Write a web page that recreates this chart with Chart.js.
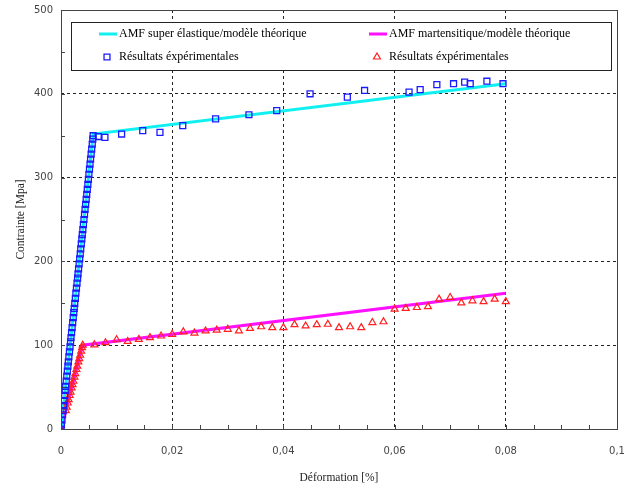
<!DOCTYPE html>
<html lang="fr">
<head>
    <meta charset="UTF-8">
    <title>Contrainte - Déformation</title>
    <script src="https://cdn.jsdelivr.net/npm/chart.js"></script>
    <style>
        body { margin: 0; background: #fff; }
        #wrap { width: 635px; height: 488px; position: relative; }
    </style>
</head>
<body>
    <div id="wrap">
        <canvas id="stressChart"></canvas>
    </div>

    <script>
        // modèle théorique (droites)
        const superLineX = [0, 0.0058, 0.08];
        const superLineY = [0, 352, 412];
        const martLineX = [0, 0.0039, 0.08];
        const martLineY = [0, 100, 162];

        // résultats expérimentaux - AMF super élastique (carrés bleus)
        const superExpX = [0, 0.00008, 0.00018, 0.00028, 0.00036, 0.00046, 0.00056, 0.00066, 0.00076, 0.00084,
            0.00094, 0.00104, 0.00114, 0.00124, 0.00132, 0.00142, 0.00152, 0.00162, 0.00172, 0.0018,
            0.0019, 0.002, 0.0021, 0.0022, 0.0023, 0.00238, 0.00248, 0.00258, 0.00268, 0.00278,
            0.00288, 0.00298, 0.00306, 0.00316, 0.00326, 0.00336, 0.00346, 0.00355, 0.00365, 0.00375,
            0.00383, 0.00393, 0.00403, 0.00413, 0.00423, 0.00433, 0.00443, 0.00453, 0.00463, 0.00473,
            0.00483, 0.00493, 0.00502, 0.00512, 0.00522, 0.00532, 0.00542, 0.00552, 0.00562, 0.00572,
            0.00578, 0.0067, 0.0079, 0.0109, 0.0147, 0.0178, 0.0219, 0.0278, 0.0338, 0.0388,
            0.0448, 0.0515, 0.0546, 0.0626, 0.0646, 0.0676, 0.0706, 0.0726, 0.0736, 0.0766, 0.0795];
        const superExpY = [0, 5, 11, 17, 22, 28, 34, 40, 46, 51,
            57, 63, 69, 75, 80, 86, 92, 98, 104, 109,
            115, 121, 127, 133, 139, 144, 150, 156, 162, 168,
            174, 180, 185, 191, 197, 203, 209, 215, 221, 227,
            232, 238, 244, 250, 256, 262, 268, 274, 280, 286,
            292, 298, 304, 310, 316, 322, 328, 334, 340, 346,
            350, 349, 348, 352, 356, 354, 362, 370, 375, 380,
            400, 396, 404, 402, 405, 411, 412, 414, 412, 415, 412];

        // résultats expérimentaux - AMF martensitique (triangles rouges)
        const martExpX = [0, 0.00086, 0.00102, 0.00121, 0.00137, 0.00156, 0.00172, 0.00191, 0.00207, 0.00223,
            0.00242, 0.00258, 0.00277, 0.00293, 0.00313, 0.00328, 0.00344, 0.00363, 0.00379, 0.00391,
            0.006, 0.008, 0.010, 0.012, 0.014, 0.016, 0.018, 0.020, 0.022, 0.024,
            0.026, 0.028, 0.030, 0.032, 0.034, 0.036, 0.038, 0.040, 0.042, 0.044,
            0.046, 0.048, 0.050, 0.052, 0.054, 0.056, 0.058, 0.060, 0.062, 0.064,
            0.066, 0.068, 0.070, 0.072, 0.074, 0.076, 0.078, 0.080];
        const martExpY = [0, 22, 26, 31, 35, 40, 44, 49, 53, 57,
            62, 66, 71, 75, 80, 84, 88, 93, 97, 100,
            100.5, 103, 106.5, 104.5, 107, 109, 111, 113, 116, 114.5,
            117, 118, 119, 117, 120, 122, 121, 121, 124.5, 123,
            124.5, 125, 121, 122, 121, 127, 128, 143, 144, 145,
            146, 155, 157, 150.5, 153, 152, 155, 152];

        const xTicks = [0, 0.02, 0.04, 0.06, 0.08, 0.1];
        const yTicks = [0, 100, 200, 300, 400, 500];

        const toPoints = (xs, ys) => xs.map((x, i) => ({ x: x, y: ys[i] }));

        // cadre, petites graduations et légende dans le graphique
        const framePlugin = {
            id: "frame",
            afterDraw(chart) {
                const { ctx, chartArea: a, scales } = chart;
                ctx.save();
                ctx.strokeStyle = "#444";
                ctx.lineWidth = 1;
                ctx.strokeRect(a.left + 0.5, a.top + 0.5, a.right - a.left, a.bottom - a.top);

                // graduations intérieures
                ctx.beginPath();
                for (let v = 0; v <= 0.1 + 1e-9; v += 0.005) {
                    const px = Math.round(scales.x.getPixelForValue(v)) + 0.5;
                    ctx.moveTo(px, a.bottom);
                    ctx.lineTo(px, a.bottom - 4);
                }
                for (let v = 0; v <= 500; v += 50) {
                    const py = Math.round(scales.y.getPixelForValue(v)) + 0.5;
                    ctx.moveTo(a.left, py);
                    ctx.lineTo(a.left + 4, py);
                }
                ctx.stroke();

                // légende
                const lx = a.left + 10, ly = a.top + 12, lw = a.right - a.left - 16, lh = 48;
                ctx.fillStyle = "#fff";
                ctx.fillRect(lx, ly, lw, lh);
                ctx.strokeStyle = "#222";
                ctx.strokeRect(lx + 0.5, ly + 0.5, lw, lh);

                const ds = chart.data.datasets;
                const cols = [lx + 28, lx + 298];
                const rows = [ly + 12, ly + 35];
                ctx.font = "12px 'Liberation Serif'";
                ctx.textBaseline = "middle";
                [[2, 0], [3, 1]].forEach(([lineIdx, expIdx], c) => {
                    const line = ds[lineIdx], exp = ds[expIdx];
                    ctx.strokeStyle = line.borderColor;
                    ctx.lineWidth = 3;
                    ctx.beginPath();
                    ctx.moveTo(cols[c], rows[0]);
                    ctx.lineTo(cols[c] + 18, rows[0]);
                    ctx.stroke();
                    ctx.fillStyle = "#000";
                    ctx.fillText(line.label, cols[c] + 20, rows[0]);

                    ctx.lineWidth = exp.borderWidth;
                    ctx.strokeStyle = exp.borderColor;
                    ctx.fillStyle = "#fff";
                    Chart.helpers.drawPoint(ctx, {
                        pointStyle: exp.pointStyle,
                        radius: exp.pointRadius,
                        rotation: 0,
                        borderWidth: exp.borderWidth
                    }, cols[c] + 8, rows[1]);
                    ctx.fillStyle = "#000";
                    ctx.fillText(exp.label, cols[c] + 20, rows[1]);
                });
                ctx.restore();
            }
        };

        const ctx = document.getElementById("stressChart").getContext("2d");
        new Chart(ctx, {
            type: "scatter",
            data: {
                datasets: [
                    {
                        label: "Résultats éxpérimentales",
                        data: toPoints(superExpX, superExpY),
                        pointStyle: "rect",
                        pointRadius: 4.2,
                        borderWidth: 1.3,
                        borderColor: "#1a1aff",
                        backgroundColor: "rgba(255,255,255,0)",
                        order: 1
                    },
                    {
                        label: "Résultats éxpérimentales",
                        data: toPoints(martExpX, martExpY),
                        pointStyle: "triangle",
                        pointRadius: 4,
                        borderWidth: 1.2,
                        borderColor: "#ff2020",
                        backgroundColor: "rgba(255,255,255,0)",
                        order: 1
                    },
                    {
                        label: "AMF super élastique/modèle théorique",
                        data: toPoints(superLineX, superLineY),
                        showLine: true,
                        pointRadius: 0,
                        borderWidth: 3,
                        borderColor: "#10f0f0",
                        order: 2
                    },
                    {
                        label: "AMF martensitique/modèle théorique",
                        data: toPoints(martLineX, martLineY),
                        showLine: true,
                        pointRadius: 0,
                        borderWidth: 3,
                        borderColor: "#ff10ff",
                        order: 2
                    }
                ]
            },
            options: {
                responsive: true,
                maintainAspectRatio: false,
                animation: false,
                layout: { padding: { top: 10, right: 18, left: 0, bottom: 0 } },
                plugins: {
                    legend: { display: false },
                    tooltip: { enabled: false }
                },
                scales: {
                    x: {
                        type: "linear",
                        min: xTicks[0],
                        max: xTicks[xTicks.length - 1],
                        afterFit: scale => {
                            scale.height = 59;
                            scale.paddingLeft = 0;
                            scale.paddingRight = 0;
                        },
                        afterBuildTicks: scale => { scale.ticks = xTicks.map(v => ({ value: v })); },
                        ticks: {
                            padding: 16,
                            maxRotation: 0,
                            color: "#444",
                            font: { family: "DejaVu Sans", size: 10 },
                            callback: v => String(v).replace(".", ",")
                        },
                        grid: { drawTicks: false, color: "#222", lineWidth: 1 },
                        border: { display: false, dash: [3, 3] },
                        title: {
                            display: true,
                            text: "Déformation [%]",
                            color: "#222",
                            font: { family: "Liberation Serif", size: 11.5 },
                            padding: { top: 0, bottom: 3 }
                        }
                    },
                    y: {
                        type: "linear",
                        min: yTicks[0],
                        max: yTicks[yTicks.length - 1],
                        afterFit: scale => {
                            scale.width = 61;
                            scale.paddingTop = 0;
                            scale.paddingBottom = 0;
                        },
                        afterBuildTicks: scale => { scale.ticks = yTicks.map(v => ({ value: v })); },
                        ticks: {
                            padding: 8,
                            color: "#444",
                            font: { family: "DejaVu Sans", size: 10 }
                        },
                        grid: { drawTicks: false, color: "#222", lineWidth: 1 },
                        border: { display: false, dash: [3, 3] },
                        title: {
                            display: true,
                            text: "Contrainte [Mpa]",
                            color: "#222",
                            font: { family: "Liberation Serif", size: 11.5 },
                            padding: { top: 14, bottom: 0 }
                        }
                    }
                }
            },
            plugins: [framePlugin]
        });
    </script>
</body>
</html>
